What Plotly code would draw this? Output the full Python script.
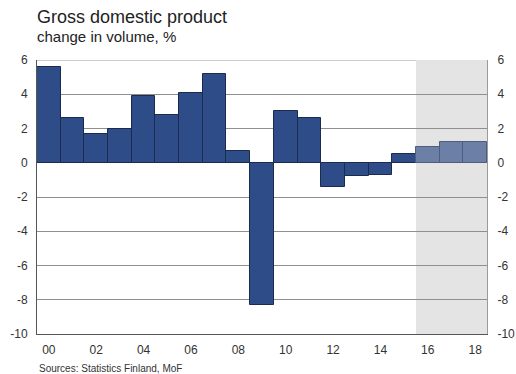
import plotly.graph_objects as go

# Annual GDP volume change, % (2016-2018 are forecasts)
years = list(range(2000, 2019))
gdp_change = [5.6, 2.6, 1.7, 2.0, 3.9, 2.8, 4.1, 5.2, 0.7, -8.3,
              3.0, 2.6, -1.4, -0.8, -0.7, 0.5, 0.9, 1.2, 1.2]
first_forecast_year = 2016

tick_years = list(range(2000, 2019, 2))
tick_labels = ["00", "02", "04", "06", "08", "10", "12", "14", "16", "18"]
y_ticks = [6, 4, 2, 0, -2, -4, -6, -8, -10]
y_tick_labels = [str(v) for v in y_ticks]

actual_color = "#2e4d88"
forecast_color = "#6b7fa7"

fill_colors = [forecast_color if y >= first_forecast_year else actual_color for y in years]
line_colors = ["#4d5d7c" if y >= first_forecast_year else "#1b2b4d" for y in years]

fig = go.Figure()
fig.add_trace(go.Bar(
    x=years, y=gdp_change, width=1.0,
    marker=dict(color=fill_colors, line=dict(color=line_colors, width=1)),
    showlegend=False, hoverinfo="x+y",
))
# invisible trace to carry the right-hand axis
fig.add_trace(go.Scatter(x=[years[0]], y=[0], yaxis="y2", mode="markers",
                         marker=dict(opacity=0), showlegend=False, hoverinfo="skip"))

family = "Liberation Sans, Arial, sans-serif"
font = dict(family=family, size=12, color="#333333")
hidden_tick = "rgba(0,0,0,0)"

fig.update_layout(
    width=516, height=374,
    margin=dict(l=37, r=29, t=60, b=40, autoexpand=False),
    paper_bgcolor="white", plot_bgcolor="white",
    font=font,
    bargap=0,
    xaxis=dict(range=[1999.5, 2018.5], tickvals=tick_years, ticktext=tick_labels,
               showgrid=False, zeroline=False, showline=True, linecolor="#555555",
               linewidth=1, ticks="outside", ticklen=5, tickcolor=hidden_tick,
               tickfont=font, automargin=False),
    yaxis=dict(range=[-10, 6], tickvals=y_ticks, ticktext=y_tick_labels,
               showgrid=True, gridcolor="#8f8f8f", gridwidth=1,
               zeroline=True, zerolinecolor="#8f8f8f", zerolinewidth=1,
               showline=True, linecolor="#555555", linewidth=1,
               ticks="outside", ticklen=6, tickcolor=hidden_tick,
               tickfont=font, automargin=False),
    yaxis2=dict(range=[-10, 6], tickvals=y_ticks, ticktext=y_tick_labels,
                overlaying="y", side="right",
                showgrid=False, zeroline=False, showline=True, linecolor="#9a9a9a",
                linewidth=1, ticks="outside", ticklen=7, tickcolor=hidden_tick,
                tickfont=font, automargin=False),
    shapes=[
        # forecast period shading
        dict(type="rect", xref="x", yref="y", x0=first_forecast_year - 0.5, x1=2018.5,
             y0=-10, y1=6, fillcolor="#e4e4e4", line=dict(width=0), layer="below"),
        # top border
        dict(type="line", xref="paper", yref="y", x0=0, x1=1, y0=6, y1=6,
             line=dict(color="#9a9a9a", width=1), layer="below"),
    ],
    annotations=[
        dict(text="Gross domestic product", xref="paper", yref="paper", x=-0.004, y=1.0,
             xanchor="left", yanchor="bottom", yshift=31, showarrow=False,
             font=dict(family=family, size=18, color="#222222")),
        dict(text="change in volume, %", xref="paper", yref="paper", x=-0.004, y=1.0,
             xanchor="left", yanchor="bottom", yshift=13, showarrow=False,
             font=dict(family=family, size=15, color="#222222")),
        dict(text="Sources: Statistics Finland, MoF", xref="paper", yref="paper", x=0.0, y=0.0,
             xanchor="left", yanchor="top", yshift=-27, showarrow=False,
             font=dict(family=family, size=10, color="#333333")),
    ],
)

fig.write_html("out.html")
